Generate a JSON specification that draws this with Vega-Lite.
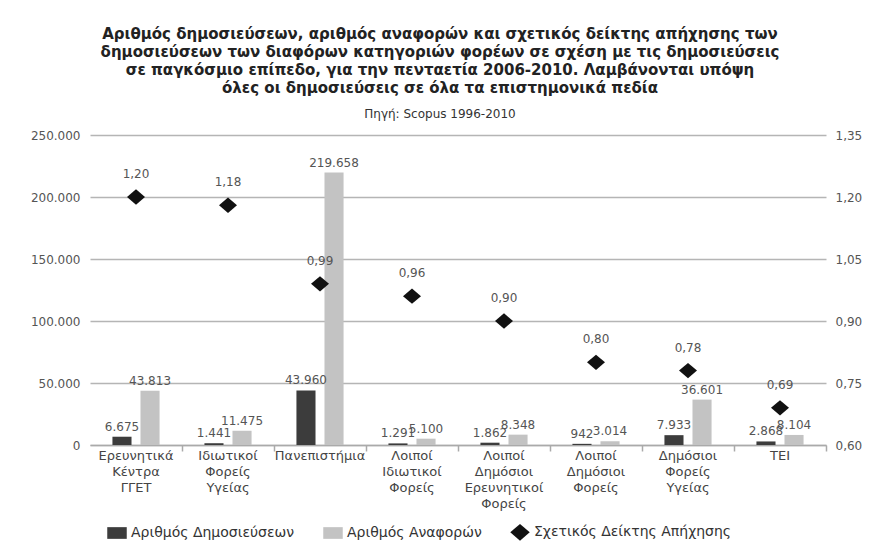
{
  "$schema": "https://vega.github.io/schema/vega-lite/v6.json",
  "width": 736,
  "height": 310,
  "autosize": {"type": "none"},
  "padding": {"left": 90, "top": 135, "right": 53, "bottom": 99},
  "background": "white",
  "title": {
    "text": [
      "Αριθμός δημοσιεύσεων, αριθμός αναφορών και σχετικός δείκτης απήχησης των",
      "δημοσιεύσεων των διαφόρων κατηγοριών φορέων σε σχέση με τις δημοσιεύσεις",
      "σε παγκόσμιο επίπεδο, για την πενταετία 2006-2010. Λαμβάνονται υπόψη",
      "όλες οι δημοσιεύσεις σε όλα τα επιστημονικά πεδία"
    ],
    "subtitle": "Πηγή:  Scopus 1996-2010",
    "anchor": "middle",
    "dx": -18,
    "offset": 9,
    "font": "DejaVu Sans",
    "fontSize": 15,
    "fontWeight": "bold",
    "lineHeight": 18,
    "color": "#222222",
    "subtitleFont": "DejaVu Sans",
    "subtitleFontSize": 12,
    "subtitleColor": "#333333",
    "subtitlePadding": 13
  },
  "data": {
    "values": [
      {"cat": "Ερευνητικά|Κέντρα|ΓΓΕΤ", "series": "Αριθμός Δημοσιεύσεων", "value": 6675},
      {"cat": "Ερευνητικά|Κέντρα|ΓΓΕΤ", "series": "Αριθμός Αναφορών", "value": 43813},
      {"cat": "Ερευνητικά|Κέντρα|ΓΓΕΤ", "series": "Σχετικός Δείκτης Απήχησης", "value": 1.20},
      {"cat": "Ιδιωτικοί|Φορείς|Υγείας", "series": "Αριθμός Δημοσιεύσεων", "value": 1441},
      {"cat": "Ιδιωτικοί|Φορείς|Υγείας", "series": "Αριθμός Αναφορών", "value": 11475},
      {"cat": "Ιδιωτικοί|Φορείς|Υγείας", "series": "Σχετικός Δείκτης Απήχησης", "value": 1.18},
      {"cat": "Πανεπιστήμια", "series": "Αριθμός Δημοσιεύσεων", "value": 43960},
      {"cat": "Πανεπιστήμια", "series": "Αριθμός Αναφορών", "value": 219658},
      {"cat": "Πανεπιστήμια", "series": "Σχετικός Δείκτης Απήχησης", "value": 0.99},
      {"cat": "Λοιποί|Ιδιωτικοί|Φορείς", "series": "Αριθμός Δημοσιεύσεων", "value": 1291},
      {"cat": "Λοιποί|Ιδιωτικοί|Φορείς", "series": "Αριθμός Αναφορών", "value": 5100},
      {"cat": "Λοιποί|Ιδιωτικοί|Φορείς", "series": "Σχετικός Δείκτης Απήχησης", "value": 0.96},
      {"cat": "Λοιποί|Δημόσιοι|Ερευνητικοί|Φορείς", "series": "Αριθμός Δημοσιεύσεων", "value": 1862},
      {"cat": "Λοιποί|Δημόσιοι|Ερευνητικοί|Φορείς", "series": "Αριθμός Αναφορών", "value": 8348},
      {"cat": "Λοιποί|Δημόσιοι|Ερευνητικοί|Φορείς", "series": "Σχετικός Δείκτης Απήχησης", "value": 0.90},
      {"cat": "Λοιποί|Δημόσιοι|Φορείς", "series": "Αριθμός Δημοσιεύσεων", "value": 942},
      {"cat": "Λοιποί|Δημόσιοι|Φορείς", "series": "Αριθμός Αναφορών", "value": 3014},
      {"cat": "Λοιποί|Δημόσιοι|Φορείς", "series": "Σχετικός Δείκτης Απήχησης", "value": 0.80},
      {"cat": "Δημόσιοι|Φορείς|Υγείας", "series": "Αριθμός Δημοσιεύσεων", "value": 7933},
      {"cat": "Δημόσιοι|Φορείς|Υγείας", "series": "Αριθμός Αναφορών", "value": 36601},
      {"cat": "Δημόσιοι|Φορείς|Υγείας", "series": "Σχετικός Δείκτης Απήχησης", "value": 0.78},
      {"cat": "ΤΕΙ", "series": "Αριθμός Δημοσιεύσεων", "value": 2868},
      {"cat": "ΤΕΙ", "series": "Αριθμός Αναφορών", "value": 8104},
      {"cat": "ΤΕΙ", "series": "Σχετικός Δείκτης Απήχησης", "value": 0.69}
    ]
  },
  "layer": [
    {
      "transform": [{"filter": "datum.series !== 'Σχετικός Δείκτης Απήχησης'"}],
      "encoding": {
        "x": {
          "field": "cat",
          "type": "nominal",
          "sort": ["Ερευνητικά|Κέντρα|ΓΓΕΤ", "Ιδιωτικοί|Φορείς|Υγείας", "Πανεπιστήμια", "Λοιποί|Ιδιωτικοί|Φορείς", "Λοιποί|Δημόσιοι|Ερευνητικοί|Φορείς", "Λοιποί|Δημόσιοι|Φορείς", "Δημόσιοι|Φορείς|Υγείας", "ΤΕΙ"],
          "scale": {"paddingInner": 0, "paddingOuter": 0},
          "axis": {
            "orient": "bottom",
            "title": null,
            "labelExpr": "split(datum.label, '|')",
            "labelAngle": 0,
            "labelFont": "DejaVu Sans",
            "labelFontSize": 13,
            "labelColor": "#444444",
            "labelLineHeight": 16,
            "labelPadding": 4,
            "labelLimit": 0,
            "ticks": false,
            "domain": true,
            "domainColor": "#aaaaaa",
            "domainWidth": 1.5,
            "grid": false
          }
        },
        "xOffset": {
          "field": "series",
          "type": "nominal",
          "sort": ["Αριθμός Δημοσιεύσεων", "Αριθμός Αναφορών"],
          "scale": {"paddingInner": 0.32, "paddingOuter": 0.8}
        },
        "y": {
          "field": "value",
          "type": "quantitative",
          "scale": {"domain": [0, 250000]},
          "axis": {
            "title": null,
            "values": [0, 50000, 100000, 150000, 200000, 250000],
            "format": ",d",
            "grid": true,
            "gridColor": "#b5b5b5",
            "gridWidth": 1.5,
            "domain": false,
            "ticks": false,
            "labelPadding": 10,
            "labelFont": "DejaVu Sans",
            "labelFontSize": 12,
            "labelColor": "#555555"
          }
        }
      },
      "layer": [
        {
          "mark": {"type": "bar"},
          "encoding": {
            "color": {
              "field": "series",
              "type": "nominal",
              "scale": {
                "domain": ["Αριθμός Δημοσιεύσεων", "Αριθμός Αναφορών", "Σχετικός Δείκτης Απήχησης"],
                "range": ["#3c3c3c", "#c3c3c3", "#111111"]
              },
              "legend": {
                "title": null,
                "orient": "none",
                "legendX": 17,
                "legendY": 387,
                "direction": "horizontal",
                "labelFont": "DejaVu Sans",
                "labelFontSize": 14,
                "labelColor": "#333333",
                "labelLimit": 0,
                "symbolSize": 380,
                "symbolStrokeWidth": 0,
                "columnPadding": 28,
                "labelOffset": 4,
                "padding": 0
              }
            }
          }
        },
        {
          "mark": {"type": "text", "baseline": "bottom", "dy": -3, "font": "DejaVu Sans", "fontSize": 12, "fill": "#555555"},
          "encoding": {
            "text": {"field": "value", "type": "quantitative", "format": ",d"}
          }
        }
      ]
    },
    {
      "transform": [{"filter": "datum.series === 'Σχετικός Δείκτης Απήχησης'"}],
      "encoding": {
        "x": {
          "field": "cat",
          "type": "nominal",
          "sort": ["Ερευνητικά|Κέντρα|ΓΓΕΤ", "Ιδιωτικοί|Φορείς|Υγείας", "Πανεπιστήμια", "Λοιποί|Ιδιωτικοί|Φορείς", "Λοιποί|Δημόσιοι|Ερευνητικοί|Φορείς", "Λοιποί|Δημόσιοι|Φορείς", "Δημόσιοι|Φορείς|Υγείας", "ΤΕΙ"],
          "axis": {
            "orient": "bottom",
            "title": null,
            "labels": false,
            "domain": false,
            "grid": false,
            "ticks": true,
            "tickSize": 6,
            "tickColor": "#aaaaaa",
            "tickWidth": 1.5,
            "bandPosition": 1
          }
        },
        "y": {
          "field": "value",
          "type": "quantitative",
          "scale": {"domain": [0.6, 1.35]},
          "axis": {
            "orient": "right",
            "title": null,
            "values": [0.6, 0.75, 0.9, 1.05, 1.2, 1.35],
            "format": ".2f",
            "grid": false,
            "domain": false,
            "ticks": false,
            "labelPadding": 9,
            "labelFont": "DejaVu Sans",
            "labelFontSize": 12,
            "labelColor": "#555555"
          }
        }
      },
      "layer": [
        {
          "mark": {"type": "point", "filled": true, "size": 324, "opacity": 1},
          "encoding": {
            "color": {
              "field": "series",
              "type": "nominal",
              "scale": {
                "domain": ["Αριθμός Δημοσιεύσεων", "Αριθμός Αναφορών", "Σχετικός Δείκτης Απήχησης"],
                "range": ["#3c3c3c", "#c3c3c3", "#111111"]
              },
              "legend": {
                "title": null,
                "orient": "none",
                "legendX": 17,
                "legendY": 387,
                "direction": "horizontal",
                "labelFont": "DejaVu Sans",
                "labelFontSize": 14,
                "labelColor": "#333333",
                "labelLimit": 0,
                "symbolSize": 380,
                "symbolStrokeWidth": 0,
                "columnPadding": 28,
                "labelOffset": 4,
                "padding": 0
              }
            },
            "shape": {
              "field": "series",
              "type": "nominal",
              "scale": {
                "domain": ["Αριθμός Δημοσιεύσεων", "Αριθμός Αναφορών", "Σχετικός Δείκτης Απήχησης"],
                "range": ["M-1,-0.6H1V0.6H-1Z", "M-1,-0.6H1V0.6H-1Z", "M-1,0L0,-0.85L1,0L0,0.85Z"]
              },
              "legend": {
                "title": null,
                "orient": "none",
                "legendX": 17,
                "legendY": 387,
                "direction": "horizontal",
                "labelFont": "DejaVu Sans",
                "labelFontSize": 14,
                "labelColor": "#333333",
                "labelLimit": 0,
                "symbolSize": 380,
                "symbolStrokeWidth": 0,
                "columnPadding": 28,
                "labelOffset": 4,
                "padding": 0
              }
            }
          }
        },
        {
          "mark": {"type": "text", "baseline": "middle", "dy": -23, "font": "DejaVu Sans", "fontSize": 12, "fill": "#555555"},
          "encoding": {
            "text": {"field": "value", "type": "quantitative", "format": ".2f"}
          }
        }
      ]
    }
  ],
  "resolve": {"scale": {"y": "independent"}, "axis": {"x": "independent"}},
  "config": {
    "font": "DejaVu Sans",
    "view": {"stroke": null},
    "locale": {
      "number": {"decimal": ",", "thousands": ".", "grouping": [3], "currency": ["", " €"]}
    }
  }
}
